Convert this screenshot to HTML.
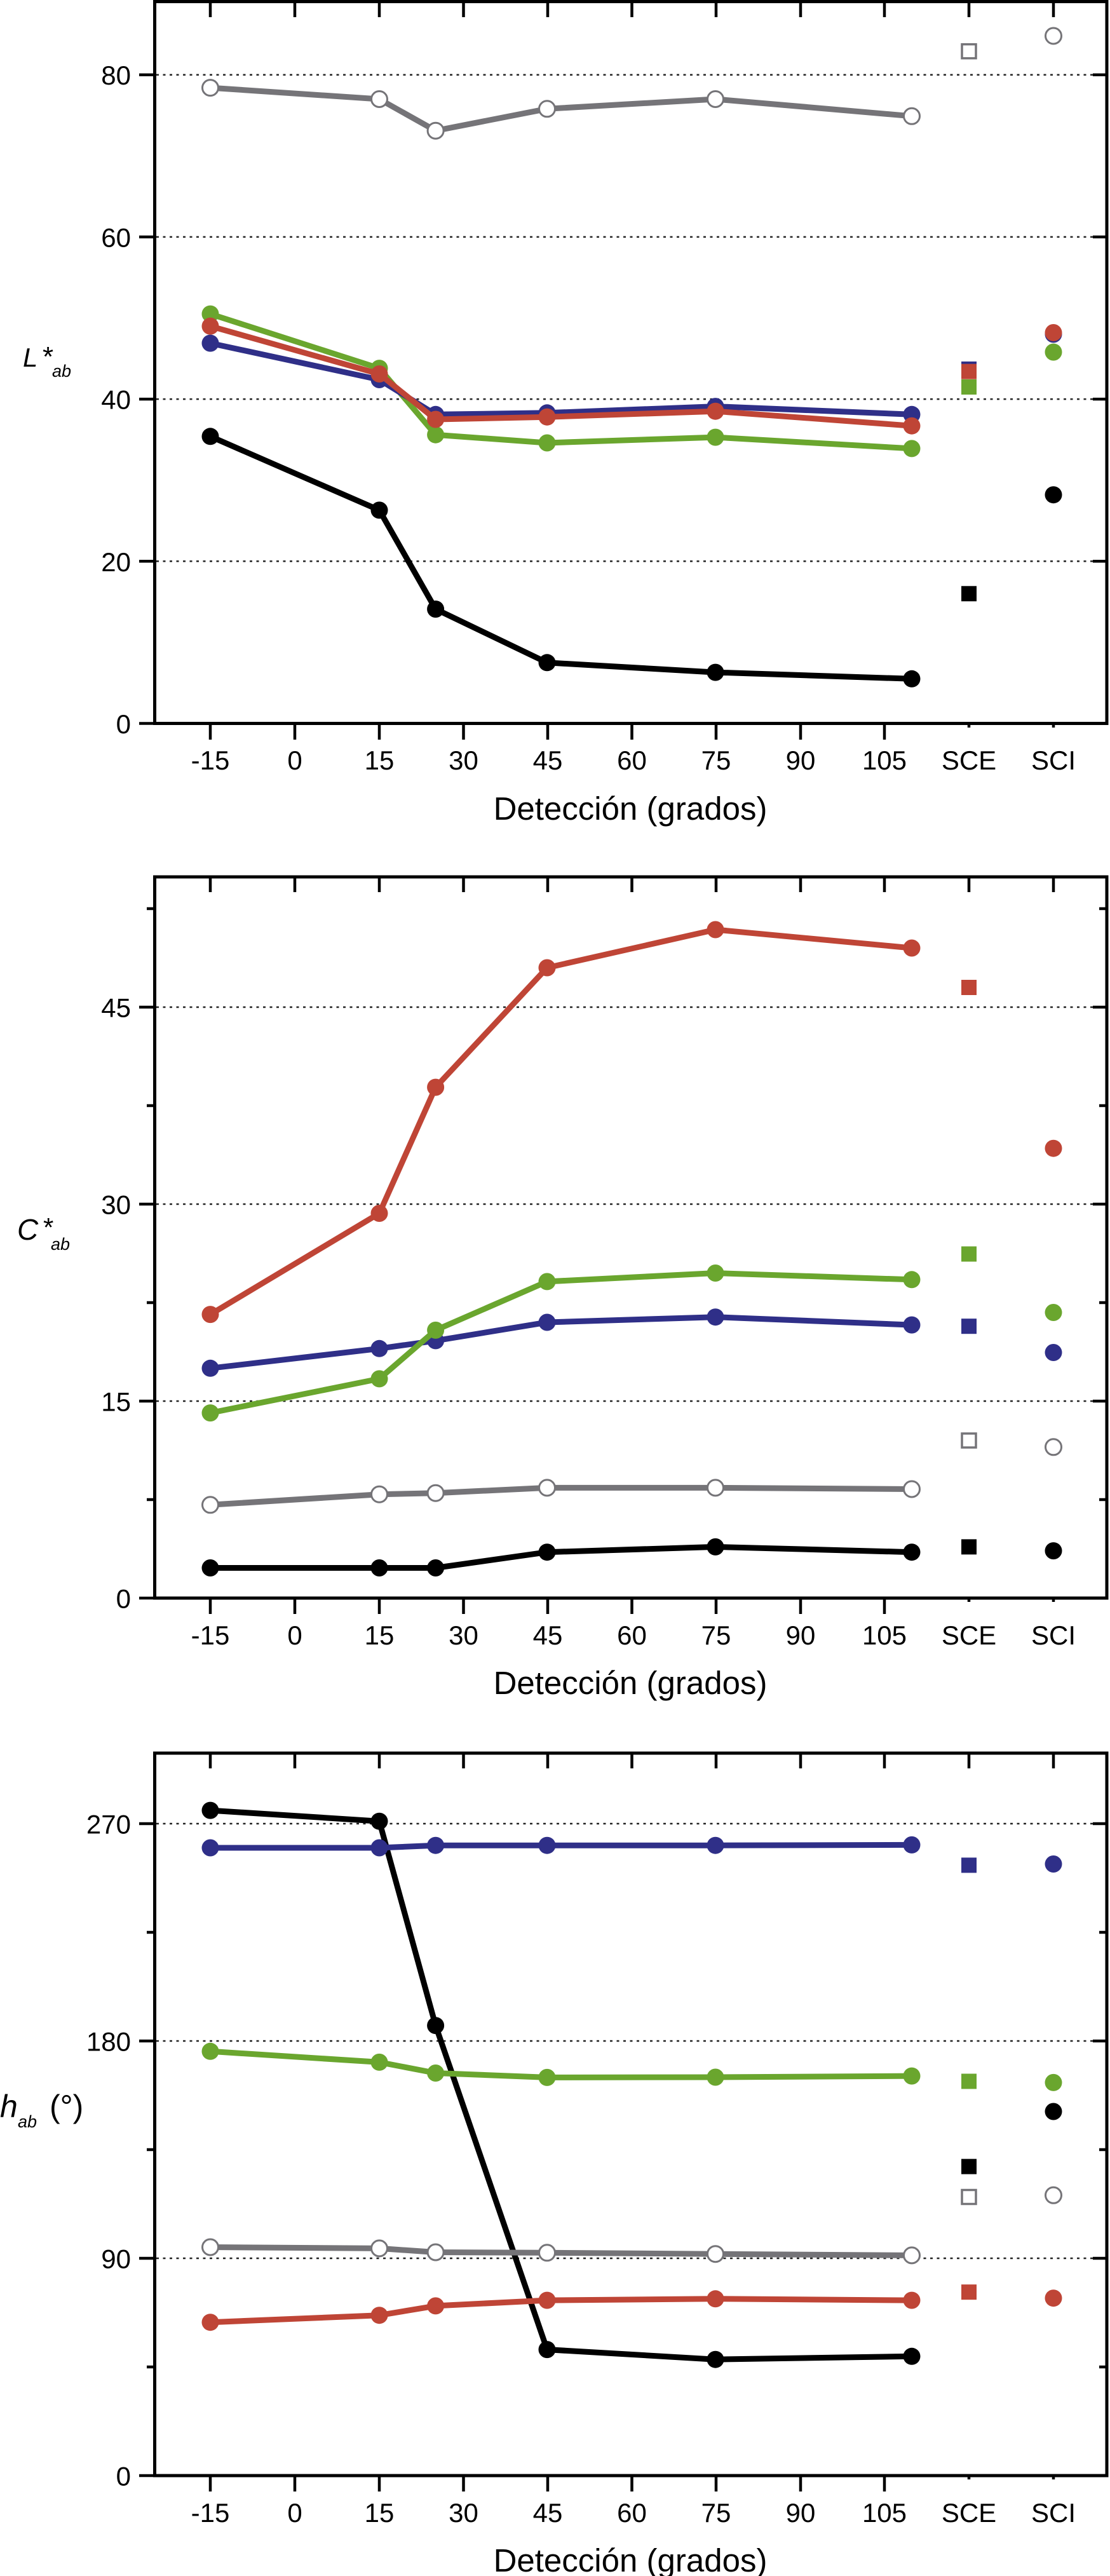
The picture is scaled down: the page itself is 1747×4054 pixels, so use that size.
<!DOCTYPE html>
<html><head><meta charset="utf-8"><style>
html,body{margin:0;padding:0;background:#fff;}
svg{display:block;}
text{font-family:"Liberation Sans",Arial,Helvetica,sans-serif;fill:#000;}
.tl{font-size:42px;}
.ttl{font-size:51px;}
.gl{stroke:#222;stroke-width:2.5;stroke-dasharray:4 6.5;fill:none;}
.fr{fill:none;stroke:#000;stroke-width:5;}
.tk{stroke:#000;stroke-width:4.5;}
.ln{fill:none;stroke-width:9;stroke-linejoin:round;}
</style></head><body>
<svg width="1747" height="4054" viewBox="0 0 1747 4054" xmlns="http://www.w3.org/2000/svg">
<rect width="1747" height="4054" fill="#fff"/>

<!-- ================= PLOT 1 : L*ab ================= -->
<g>
<line class="gl" x1="246" y1="117.7" x2="1739" y2="117.7"/>
<line class="gl" x1="246" y1="372.9" x2="1739" y2="372.9"/>
<line class="gl" x1="246" y1="628.1" x2="1739" y2="628.1"/>
<line class="gl" x1="246" y1="883.3" x2="1739" y2="883.3"/>
<rect class="fr" x="243.5" y="2.5" width="1498.5" height="1136"/>
<!-- top ticks -->
<g class="tk">
<line x1="331" y1="2.5" x2="331" y2="27"/><line x1="464" y1="2.5" x2="464" y2="27"/><line x1="597" y1="2.5" x2="597" y2="27"/><line x1="729.5" y1="2.5" x2="729.5" y2="27"/><line x1="862" y1="2.5" x2="862" y2="27"/><line x1="994.5" y1="2.5" x2="994.5" y2="27"/><line x1="1127" y1="2.5" x2="1127" y2="27"/><line x1="1260" y1="2.5" x2="1260" y2="27"/><line x1="1392" y1="2.5" x2="1392" y2="27"/><line x1="1525" y1="2.5" x2="1525" y2="27"/><line x1="1658" y1="2.5" x2="1658" y2="27"/>
<!-- bottom ticks -->
<line x1="331" y1="1138.5" x2="331" y2="1164"/><line x1="464" y1="1138.5" x2="464" y2="1164"/><line x1="597" y1="1138.5" x2="597" y2="1164"/><line x1="729.5" y1="1138.5" x2="729.5" y2="1164"/><line x1="862" y1="1138.5" x2="862" y2="1164"/><line x1="994.5" y1="1138.5" x2="994.5" y2="1164"/><line x1="1127" y1="1138.5" x2="1127" y2="1164"/><line x1="1260" y1="1138.5" x2="1260" y2="1164"/><line x1="1392" y1="1138.5" x2="1392" y2="1164"/><line x1="1525" y1="1138.5" x2="1525" y2="1145"/><line x1="1658" y1="1138.5" x2="1658" y2="1145"/>
<!-- left / right ticks -->
<line x1="219" y1="117.7" x2="243.5" y2="117.7"/><line x1="219" y1="372.9" x2="243.5" y2="372.9"/><line x1="219" y1="628.1" x2="243.5" y2="628.1"/><line x1="219" y1="883.3" x2="243.5" y2="883.3"/><line x1="219" y1="1138.5" x2="243.5" y2="1138.5"/>
<line x1="1720" y1="117.7" x2="1742" y2="117.7"/><line x1="1720" y1="372.9" x2="1742" y2="372.9"/><line x1="1720" y1="628.1" x2="1742" y2="628.1"/><line x1="1720" y1="883.3" x2="1742" y2="883.3"/>
</g>
<g class="tl" text-anchor="end">
<text x="206" y="133">80</text><text x="206" y="388.5">60</text><text x="206" y="643.5">40</text><text x="206" y="899">20</text><text x="206" y="1154">0</text>
</g>
<g class="tl" text-anchor="middle">
<text x="331" y="1211">-15</text><text x="464" y="1211">0</text><text x="597" y="1211">15</text><text x="729.5" y="1211">30</text><text x="862" y="1211">45</text><text x="994.5" y="1211">60</text><text x="1127" y="1211">75</text><text x="1260" y="1211">90</text><text x="1392" y="1211">105</text><text x="1525" y="1211">SCE</text><text x="1658" y="1211">SCI</text>
</g>
<text class="ttl" x="992" y="1290" text-anchor="middle">Detección (grados)</text>
<text x="36" y="577" font-size="42" font-style="italic">L</text>
<text x="67" y="576" font-size="44">*</text>
<text x="82" y="593" font-size="27" font-style="italic">ab</text>

<!-- series -->
<polyline class="ln" stroke="#757478" points="331,138.1 597,156 685.6,205.7 861,171.3 1126,156 1435,182.8"/>
<g fill="#fff" stroke="#757478" stroke-width="3">
<circle cx="331" cy="138.1" r="12.5"/><circle cx="597" cy="156" r="12.5"/><circle cx="685.6" cy="205.7" r="12.5"/><circle cx="861" cy="171.3" r="12.5"/><circle cx="1126" cy="156" r="12.5"/><circle cx="1435" cy="182.8" r="12.5"/>
<rect x="1514" y="69.7" width="22" height="22" stroke-width="3.5"/><circle cx="1658" cy="56.5" r="12.5"/>
</g>
<polyline class="ln" stroke="#000" points="331,686.8 597,802.9 685.6,958.6 861,1042.8 1126,1058.1 1435,1068.3"/>
<g fill="#000">
<circle cx="331" cy="686.8" r="13.5"/><circle cx="597" cy="802.9" r="13.5"/><circle cx="685.6" cy="958.6" r="13.5"/><circle cx="861" cy="1042.8" r="13.5"/><circle cx="1126" cy="1058.1" r="13.5"/><circle cx="1435" cy="1068.3" r="13.5"/>
<rect x="1513" y="922.3" width="24" height="24"/><circle cx="1658" cy="778.7" r="13.5"/>
</g>
<polyline class="ln" stroke="#6aa62e" points="331,494.1 597,579.6 685.6,684.2 861,697 1126,688.1 1435,705.9"/>
<g fill="#6aa62e">
<circle cx="331" cy="494.1" r="13.5"/><circle cx="597" cy="579.6" r="13.5"/><circle cx="685.6" cy="684.2" r="13.5"/><circle cx="861" cy="697" r="13.5"/><circle cx="1126" cy="688.1" r="13.5"/><circle cx="1435" cy="705.9" r="13.5"/>
</g>
<polyline class="ln" stroke="#2f2f88" points="331,540.1 597,597.5 685.6,652.3 861,649.8 1126,639.6 1435,652.3"/>
<g fill="#2f2f88">
<circle cx="331" cy="540.1" r="13.5"/><circle cx="597" cy="597.5" r="13.5"/><circle cx="685.6" cy="652.3" r="13.5"/><circle cx="861" cy="649.8" r="13.5"/><circle cx="1126" cy="639.6" r="13.5"/><circle cx="1435" cy="652.3" r="13.5"/>
<rect x="1513" y="568.9" width="24" height="24"/><circle cx="1658" cy="526" r="13.5"/>
</g>
<polyline class="ln" stroke="#bf4536" points="331,513.3 597,588.5 685.6,660 861,656.2 1126,647.2 1435,670.2"/>
<g fill="#bf4536">
<circle cx="331" cy="513.3" r="13.5"/><circle cx="597" cy="588.5" r="13.5"/><circle cx="685.6" cy="660" r="13.5"/><circle cx="861" cy="656.2" r="13.5"/><circle cx="1126" cy="647.2" r="13.5"/><circle cx="1435" cy="670.2" r="13.5"/>
<rect x="1513" y="572.7" width="24" height="24"/><circle cx="1658" cy="523.5" r="13.5"/>
</g>
<g fill="#6aa62e"><rect x="1513" y="597" width="24" height="24"/><circle cx="1658" cy="554.1" r="13.5"/></g>
</g>

<!-- ================= PLOT 2 : C*ab ================= -->
<g>
<line class="gl" x1="246" y1="1585" x2="1739" y2="1585"/>
<line class="gl" x1="246" y1="1895" x2="1739" y2="1895"/>
<line class="gl" x1="246" y1="2205" x2="1739" y2="2205"/>
<rect class="fr" x="243.5" y="1380" width="1498.5" height="1135"/>
<g class="tk">
<line x1="331" y1="1380" x2="331" y2="1404"/><line x1="464" y1="1380" x2="464" y2="1404"/><line x1="597" y1="1380" x2="597" y2="1404"/><line x1="729.5" y1="1380" x2="729.5" y2="1404"/><line x1="862" y1="1380" x2="862" y2="1404"/><line x1="994.5" y1="1380" x2="994.5" y2="1404"/><line x1="1127" y1="1380" x2="1127" y2="1404"/><line x1="1260" y1="1380" x2="1260" y2="1404"/><line x1="1392" y1="1380" x2="1392" y2="1404"/><line x1="1525" y1="1380" x2="1525" y2="1404"/><line x1="1658" y1="1380" x2="1658" y2="1404"/>
<line x1="331" y1="2515" x2="331" y2="2540"/><line x1="464" y1="2515" x2="464" y2="2540"/><line x1="597" y1="2515" x2="597" y2="2540"/><line x1="729.5" y1="2515" x2="729.5" y2="2540"/><line x1="862" y1="2515" x2="862" y2="2540"/><line x1="994.5" y1="2515" x2="994.5" y2="2540"/><line x1="1127" y1="2515" x2="1127" y2="2540"/><line x1="1260" y1="2515" x2="1260" y2="2540"/><line x1="1392" y1="2515" x2="1392" y2="2540"/><line x1="1525" y1="2515" x2="1525" y2="2521"/><line x1="1658" y1="2515" x2="1658" y2="2521"/>
<line x1="219" y1="1585" x2="243.5" y2="1585"/><line x1="219" y1="1895" x2="243.5" y2="1895"/><line x1="219" y1="2205" x2="243.5" y2="2205"/><line x1="219" y1="2515" x2="243.5" y2="2515"/>
<line x1="231" y1="1430" x2="243.5" y2="1430"/><line x1="231" y1="1740" x2="243.5" y2="1740"/><line x1="231" y1="2050" x2="243.5" y2="2050"/><line x1="231" y1="2360" x2="243.5" y2="2360"/>
<line x1="1720" y1="1585" x2="1742" y2="1585"/><line x1="1720" y1="1895" x2="1742" y2="1895"/><line x1="1720" y1="2205" x2="1742" y2="2205"/>
<line x1="1730" y1="1430" x2="1742" y2="1430"/><line x1="1730" y1="1740" x2="1742" y2="1740"/><line x1="1730" y1="2050" x2="1742" y2="2050"/><line x1="1730" y1="2360" x2="1742" y2="2360"/>
</g>
<g class="tl" text-anchor="end">
<text x="206" y="1600.5">45</text><text x="206" y="1910.5">30</text><text x="206" y="2220.5">15</text><text x="206" y="2530.5">0</text>
</g>
<g class="tl" text-anchor="middle">
<text x="331" y="2588">-15</text><text x="464" y="2588">0</text><text x="597" y="2588">15</text><text x="729.5" y="2588">30</text><text x="862" y="2588">45</text><text x="994.5" y="2588">60</text><text x="1127" y="2588">75</text><text x="1260" y="2588">90</text><text x="1392" y="2588">105</text><text x="1525" y="2588">SCE</text><text x="1658" y="2588">SCI</text>
</g>
<text class="ttl" x="992" y="2666" text-anchor="middle">Detección (grados)</text>
<text x="27" y="1951" font-size="46" font-style="italic">C</text>
<text x="68" y="1946" font-size="42">*</text>
<text x="80" y="1967" font-size="27" font-style="italic">ab</text>

<polyline class="ln" stroke="#757478" points="331,2368.3 597,2351.7 685.6,2349.7 861,2341.4 1126,2341.4 1435,2343.5"/>
<g fill="#fff" stroke="#757478" stroke-width="3">
<circle cx="331" cy="2368.3" r="12.5"/><circle cx="597" cy="2351.7" r="12.5"/><circle cx="685.6" cy="2349.7" r="12.5"/><circle cx="861" cy="2341.4" r="12.5"/><circle cx="1126" cy="2341.4" r="12.5"/><circle cx="1435" cy="2343.5" r="12.5"/>
<rect x="1514" y="2256" width="22" height="22" stroke-width="3.5"/><circle cx="1658" cy="2277.3" r="12.5"/>
</g>
<polyline class="ln" stroke="#000" points="331,2467.5 597,2467.5 685.6,2467.5 861,2442.7 1126,2434.4 1435,2442.7"/>
<g fill="#000">
<circle cx="331" cy="2467.5" r="13.5"/><circle cx="597" cy="2467.5" r="13.5"/><circle cx="685.6" cy="2467.5" r="13.5"/><circle cx="861" cy="2442.7" r="13.5"/><circle cx="1126" cy="2434.4" r="13.5"/><circle cx="1435" cy="2442.7" r="13.5"/>
<rect x="1513" y="2422.4" width="24" height="24"/><circle cx="1658" cy="2440.6" r="13.5"/>
</g>
<polyline class="ln" stroke="#2f2f88" points="331,2153.3 597,2122.3 685.6,2109.9 861,2081 1126,2072.7 1435,2085.1"/>
<g fill="#2f2f88">
<circle cx="331" cy="2153.3" r="13.5"/><circle cx="597" cy="2122.3" r="13.5"/><circle cx="685.6" cy="2109.9" r="13.5"/><circle cx="861" cy="2081" r="13.5"/><circle cx="1126" cy="2072.7" r="13.5"/><circle cx="1435" cy="2085.1" r="13.5"/>
<rect x="1513" y="2075.2" width="24" height="24"/><circle cx="1658" cy="2128.5" r="13.5"/>
</g>
<polyline class="ln" stroke="#6aa62e" points="331,2223.6 597,2169.9 685.6,2093.4 861,2016.9 1126,2003.5 1435,2013.8"/>
<g fill="#6aa62e">
<circle cx="331" cy="2223.6" r="13.5"/><circle cx="597" cy="2169.9" r="13.5"/><circle cx="685.6" cy="2093.4" r="13.5"/><circle cx="861" cy="2016.9" r="13.5"/><circle cx="1126" cy="2003.5" r="13.5"/><circle cx="1435" cy="2013.8" r="13.5"/>
<rect x="1513" y="1961.5" width="24" height="24"/><circle cx="1658" cy="2065.5" r="13.5"/>
</g>
<polyline class="ln" stroke="#bf4536" points="331,2068.6 597,1909.5 685.6,1711.1 861,1523 1126,1463 1435,1492"/>
<g fill="#bf4536">
<circle cx="331" cy="2068.6" r="13.5"/><circle cx="597" cy="1909.5" r="13.5"/><circle cx="685.6" cy="1711.1" r="13.5"/><circle cx="861" cy="1523" r="13.5"/><circle cx="1126" cy="1463" r="13.5"/><circle cx="1435" cy="1492" r="13.5"/>
<rect x="1513" y="1542" width="24" height="24"/><circle cx="1658" cy="1807.2" r="13.5"/>
</g>
</g>

<!-- ================= PLOT 3 : hab ================= -->
<g>
<line class="gl" x1="246" y1="2870" x2="1739" y2="2870"/>
<line class="gl" x1="246" y1="3212" x2="1739" y2="3212"/>
<line class="gl" x1="246" y1="3554" x2="1739" y2="3554"/>
<rect class="fr" x="243.5" y="2759" width="1498.5" height="1137"/>
<g class="tk">
<line x1="331" y1="2759" x2="331" y2="2783"/><line x1="464" y1="2759" x2="464" y2="2783"/><line x1="597" y1="2759" x2="597" y2="2783"/><line x1="729.5" y1="2759" x2="729.5" y2="2783"/><line x1="862" y1="2759" x2="862" y2="2783"/><line x1="994.5" y1="2759" x2="994.5" y2="2783"/><line x1="1127" y1="2759" x2="1127" y2="2783"/><line x1="1260" y1="2759" x2="1260" y2="2783"/><line x1="1392" y1="2759" x2="1392" y2="2783"/><line x1="1525" y1="2759" x2="1525" y2="2783"/><line x1="1658" y1="2759" x2="1658" y2="2783"/>
<line x1="331" y1="3896" x2="331" y2="3921"/><line x1="464" y1="3896" x2="464" y2="3921"/><line x1="597" y1="3896" x2="597" y2="3921"/><line x1="729.5" y1="3896" x2="729.5" y2="3921"/><line x1="862" y1="3896" x2="862" y2="3921"/><line x1="994.5" y1="3896" x2="994.5" y2="3921"/><line x1="1127" y1="3896" x2="1127" y2="3921"/><line x1="1260" y1="3896" x2="1260" y2="3921"/><line x1="1392" y1="3896" x2="1392" y2="3921"/><line x1="1525" y1="3896" x2="1525" y2="3902"/><line x1="1658" y1="3896" x2="1658" y2="3902"/>
<line x1="219" y1="2870" x2="243.5" y2="2870"/><line x1="219" y1="3212" x2="243.5" y2="3212"/><line x1="219" y1="3554" x2="243.5" y2="3554"/><line x1="219" y1="3896" x2="243.5" y2="3896"/>
<line x1="231" y1="3041" x2="243.5" y2="3041"/><line x1="231" y1="3383" x2="243.5" y2="3383"/><line x1="231" y1="3725" x2="243.5" y2="3725"/>
<line x1="1720" y1="2870" x2="1742" y2="2870"/><line x1="1720" y1="3212" x2="1742" y2="3212"/><line x1="1720" y1="3554" x2="1742" y2="3554"/>
<line x1="1730" y1="3041" x2="1742" y2="3041"/><line x1="1730" y1="3383" x2="1742" y2="3383"/><line x1="1730" y1="3725" x2="1742" y2="3725"/>
</g>
<g class="tl" text-anchor="end">
<text x="206" y="2885.5">270</text><text x="206" y="3227.5">180</text><text x="206" y="3569.5">90</text><text x="206" y="3911.5">0</text>
</g>
<g class="tl" text-anchor="middle">
<text x="331" y="3969">-15</text><text x="464" y="3969">0</text><text x="597" y="3969">15</text><text x="729.5" y="3969">30</text><text x="862" y="3969">45</text><text x="994.5" y="3969">60</text><text x="1127" y="3969">75</text><text x="1260" y="3969">90</text><text x="1392" y="3969">105</text><text x="1525" y="3969">SCE</text><text x="1658" y="3969">SCI</text>
</g>
<text class="ttl" x="992" y="4047" text-anchor="middle">Detección (grados)</text>
<text x="0" y="3332" font-size="50" font-style="italic">h</text>
<text x="28" y="3348" font-size="27" font-style="italic">ab</text>
<text x="78" y="3332" font-size="50">(°)</text>

<polyline class="ln" stroke="#000" points="331,2849.1 597,2866.2 685.6,3187.7 861,3697.6 1126,3713.2 1435,3708.3"/>
<g fill="#000">
<circle cx="331" cy="2849.1" r="13.5"/><circle cx="597" cy="2866.2" r="13.5"/><circle cx="685.6" cy="3187.7" r="13.5"/><circle cx="861" cy="3697.6" r="13.5"/><circle cx="1126" cy="3713.2" r="13.5"/><circle cx="1435" cy="3708.3" r="13.5"/>
<rect x="1513" y="3397.6" width="24" height="24"/><circle cx="1658" cy="3323" r="13.5"/>
</g>
<polyline class="ln" stroke="#757478" points="331,3536.5 597,3538.4 685.6,3544.5 861,3545.3 1126,3547.2 1435,3549.4"/>
<g fill="#fff" stroke="#757478" stroke-width="3">
<circle cx="331" cy="3536.5" r="12.5"/><circle cx="597" cy="3538.4" r="12.5"/><circle cx="685.6" cy="3544.5" r="12.5"/><circle cx="861" cy="3545.3" r="12.5"/><circle cx="1126" cy="3547.2" r="12.5"/><circle cx="1435" cy="3549.4" r="12.5"/>
<rect x="1514" y="3446.5" width="22" height="22" stroke-width="3.5"/><circle cx="1658" cy="3454.8" r="12.5"/>
</g>
<polyline class="ln" stroke="#2f2f88" points="331,2908 597,2908 685.6,2904.2 861,2904.2 1126,2904.2 1435,2903.4"/>
<g fill="#2f2f88">
<circle cx="331" cy="2908" r="13.5"/><circle cx="597" cy="2908" r="13.5"/><circle cx="685.6" cy="2904.2" r="13.5"/><circle cx="861" cy="2904.2" r="13.5"/><circle cx="1126" cy="2904.2" r="13.5"/><circle cx="1435" cy="2903.4" r="13.5"/>
<rect x="1513" y="2923.4" width="24" height="24"/><circle cx="1658" cy="2933.5" r="13.5"/>
</g>
<polyline class="ln" stroke="#bf4536" points="331,3654.7 597,3643.7 685.6,3628.9 861,3620.1 1126,3617.8 1435,3620.1"/>
<g fill="#bf4536">
<circle cx="331" cy="3654.7" r="13.5"/><circle cx="597" cy="3643.7" r="13.5"/><circle cx="685.6" cy="3628.9" r="13.5"/><circle cx="861" cy="3620.1" r="13.5"/><circle cx="1126" cy="3617.8" r="13.5"/><circle cx="1435" cy="3620.1" r="13.5"/>
<rect x="1513" y="3595.2" width="24" height="24"/><circle cx="1658" cy="3616.7" r="13.5"/>
</g>
<polyline class="ln" stroke="#6aa62e" points="331,3228.3 597,3245.4 685.6,3262.5 861,3269.4 1126,3269 1435,3267.1"/>
<g fill="#6aa62e">
<circle cx="331" cy="3228.3" r="13.5"/><circle cx="597" cy="3245.4" r="13.5"/><circle cx="685.6" cy="3262.5" r="13.5"/><circle cx="861" cy="3269.4" r="13.5"/><circle cx="1126" cy="3269" r="13.5"/><circle cx="1435" cy="3267.1" r="13.5"/>
<rect x="1513" y="3263.5" width="24" height="24"/><circle cx="1658" cy="3277.4" r="13.5"/>
</g>
</g>
</svg>
</body></html>
